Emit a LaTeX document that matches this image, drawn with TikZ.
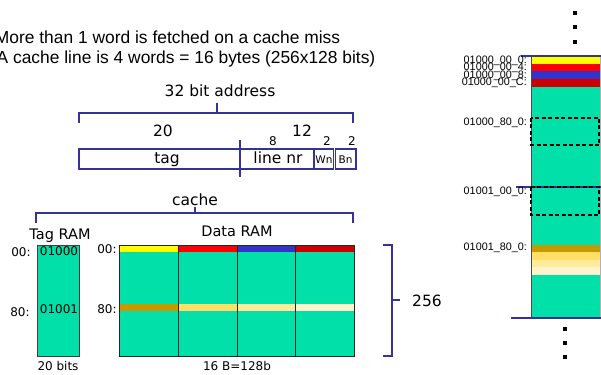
\documentclass[tikz,border=0pt]{standalone}
\usepackage{fontspec}
\setmainfont{DejaVu Sans}
\newfontfamily\libsans{Liberation Sans}
\newcommand\fsz[1]{\fontsize{#1}{#1}\selectfont}
\definecolor{brc}{RGB}{51,51,153}
\definecolor{grn}{RGB}{0,224,168}
\definecolor{ylw}{RGB}{255,255,0}
\definecolor{rd}{RGB}{255,0,0}
\definecolor{bl}{RGB}{51,51,204}
\definecolor{drd}{RGB}{204,0,0}
\definecolor{gA}{RGB}{196,154,0}
\definecolor{gB}{RGB}{255,223,102}
\definecolor{gC}{RGB}{255,235,156}
\definecolor{gD}{RGB}{255,244,204}
\tikzset{
  txt/.style={inner sep=0pt, anchor=base},
  brace/.style={draw=brc, line width=1.8pt},
  addrbox/.style={draw=brc, line width=1.5pt},
  lbl/.style={inner sep=0pt, anchor=base east, font=\libsans\fsz{10.8}},
  dotsq/.style={fill=black},
  dashbox/.style={draw=black, line width=1.4pt, dash pattern=on 4pt off 2.5pt},
}
\begin{document}
\begin{tikzpicture}[x=1pt,y=-1pt]
\useasboundingbox (0,0) rectangle (601,374);
% title
\node[inner sep=0pt, anchor=base west, font=\libsans\fsz{17.4}] (t1) at (-5.3,43.5) {More than 1 word is fetched on a cache miss};
\node[inner sep=0pt, anchor=base west, font=\libsans\fsz{17.4}] (t2) at (-3.5,64) {A cache line is 4 words = 16 bytes (256x128 bits)};
% address brace
\draw[brace] (79,123) -- (79,113) -- (353,113) -- (353,123);
\draw[brace] (217,113) -- (217,103);
\node[txt, font=\fsz{15.5}] (addr) at (220,97) {32 bit address};
\node[txt, font=\fsz{15.5}] (n20) at (163,137) {20};
\node[txt, font=\fsz{15.5}] (n12) at (302,137) {12};
\node[txt, font=\fsz{12}] (n8) at (273,146) {8};
\node[txt, font=\fsz{12}] (n2a) at (327,146) {2};
\node[txt, font=\fsz{12}] (n2b) at (352,146) {2};
% address fields
\draw[addrbox] (79,149) rectangle (314,169);
\draw[addrbox] (240,140) -- (240,177);
\draw[addrbox] (314,149) rectangle (333.5,169);
\draw[addrbox] (335.5,149) rectangle (356,169);
\node[txt, font=\fsz{15.5}] (tag) at (167,164) {tag};
\node[txt, font=\fsz{15.5}] (linenr) at (278,164) {line nr};
\node[txt, font=\fsz{10.5}] (wn) at (324,163) {Wn};
\node[txt, font=\fsz{10.5}] (bn) at (345.5,163) {Bn};
% cache brace
\draw[brace] (36,223) -- (36,213) -- (353,213) -- (353,223);
\draw[brace] (195,213) -- (195,207);
\node[txt, font=\fsz{15.5}] (cache) at (195,205) {cache};
\node[txt, font=\fsz{14.5}] (tagram) at (60,239) {Tag RAM};
\node[txt, font=\fsz{14.5}] (dataram) at (237,236) {Data RAM};
% tag RAM
\fill[grn] (37,245) rectangle (79,356);
\draw[black!75, line width=1pt] (37,245) rectangle (79,356);
\node[txt, font=\fsz{12}] (l00a) at (21,256) {00:};
\node[txt, font=\fsz{12}] (l80a) at (20,316) {80:};
\node[txt, font=\fsz{12}] (tg1) at (59,255) {01000};
\node[txt, font=\fsz{12}] (tg2) at (59,313) {01001};
\node[txt, font=\fsz{12}] (bits) at (58,370) {20 bits};
% data RAM
\fill[grn] (119,245) rectangle (354,356);
\fill[ylw] (119,245) rectangle (178,252);
\fill[rd] (178,245) rectangle (237,252);
\fill[bl] (237,245) rectangle (295,252);
\fill[drd] (295,245) rectangle (354,252);
\fill[gA] (119,304) rectangle (178,311);
\fill[gB] (178,304) rectangle (237,311);
\fill[gC] (237,304) rectangle (295,311);
\fill[gD] (295,304) rectangle (354,311);
\draw[black!85, line width=1pt] (178,245) -- (178,356) (237,245) -- (237,356) (295,245) -- (295,356);
\draw[black!85, line width=1pt] (119,245) rectangle (354,356);
\node[txt, font=\fsz{12}] (l00b) at (107,253) {00:};
\node[txt, font=\fsz{12}] (l80b) at (107,313) {80:};
\node[txt, font=\fsz{12}] (width) at (237,370) {16 B=128b};
% right brace
\draw[brace] (383,245) -- (392,245) -- (392,356) -- (383,356);
\draw[brace] (392,300) -- (400,300);
\node[txt, font=\fsz{15.5}] (n256) at (427,306) {256};
% memory column
\fill[grn] (531,56) rectangle (600,318);
\fill[ylw] (531,57) rectangle (600,64);
\fill[rd] (531,64) rectangle (600,71);
\fill[bl] (531,71) rectangle (600,79);
\fill[drd] (531,79) rectangle (600,87);
\fill[gA] (531,245) rectangle (600,252);
\fill[gB] (531,252) rectangle (600,260);
\fill[gC] (531,260) rectangle (600,267);
\fill[gD] (531,267) rectangle (600,275);
\draw[black!70, line width=1pt] (531,56) -- (531,318);
\draw[black!30, line width=0.5pt] (600,56) -- (600,318);
\draw[dashbox] (531,118) rectangle (599,145);
\draw[brc, line width=1.5pt] (516,187) -- (601,187);
\draw[dashbox] (531,187) rectangle (599,215);
\draw[brc, line width=1.5pt] (521,56) -- (601,56);
\draw[brc, line width=1.5pt] (511,318) -- (601,318);
\node[lbl] (m1) at (527,63.5) {01000\_00\_0:};
\node[lbl] (m2) at (527,70.7) {01000\_00\_4:};
\node[lbl] (m3) at (527,78.7) {01000\_00\_8:};
\node[lbl] (m4) at (527,85.3) {01000\_00\_C:};
\node[lbl] (m5) at (527,126) {01000\_80\_0:};
\node[lbl] (m6) at (527,194) {01001\_00\_0:};
\node[lbl] (m7) at (527,250) {01001\_80\_0:};
% dots
\foreach \yy in {13,27,42} \fill[dotsq] (573,\yy-2) rectangle (577,\yy+2);
\foreach \yy in {329,343,357} \fill[dotsq] (563,\yy-2) rectangle (567,\yy+2);
\end{tikzpicture}
\end{document}
